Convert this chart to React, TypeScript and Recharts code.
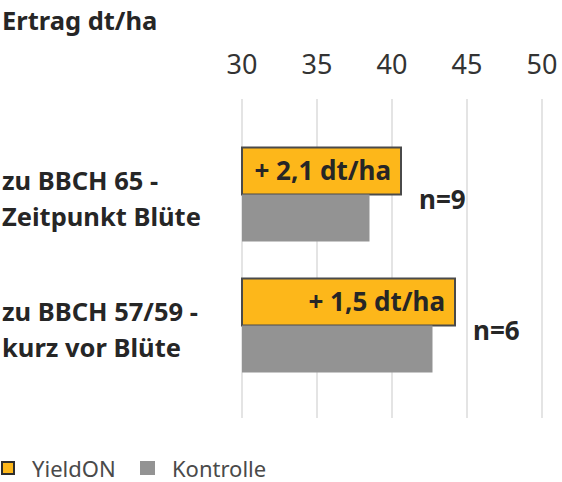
import React from "react";
import { BarChart, Bar, XAxis, YAxis, CartesianGrid, Legend, LabelList } from "recharts";

const categories = ["zu BBCH 65 -\nZeitpunkt Blüte", "zu BBCH 57/59 -\nkurz vor Blüte"];
const yieldOnValues = [40.6, 44.2];
const kontrolleValues = [38.5, 42.7];
const diffLabels = ["+ 2,1 dt/ha", "+ 1,5 dt/ha"];
const nLabels = ["n=9", "n=6"];
const xTicks = [30, 35, 40, 45, 50];

const data = categories.map((name, i) => ({
  name,
  yieldOn: yieldOnValues[i],
  kontrolle: kontrolleValues[i],
  diff: diffLabels[i],
  n: nLabels[i],
}));

const FONT = "'Noto Sans', 'Open Sans', sans-serif";
const YELLOW = "#FDB71A";
const GRAY = "#939393";
const DARK = "#262626";

const CategoryTick = (props: any) => {
  const { y, payload } = props;
  const lines = String(payload.value).split("\n");
  return (
    <text x={2} y={y - 4} fontFamily={FONT} fontSize={25.5} fontWeight="bold" fill={DARK}>
      {lines.map((l, i) => (
        <tspan key={i} x={2} dy={i === 0 ? 0 : 36}>
          {l}
        </tspan>
      ))}
    </text>
  );
};

const NLabel = (props: any) => {
  const { x, y, width, height, value } = props;
  return (
    <text
      x={x + width + 18}
      y={y + height + 4}
      dominantBaseline="central"
      fontFamily={FONT}
      fontSize={26}
      fontWeight="bold"
      fill={DARK}
    >
      {value}
    </text>
  );
};

const LegendContent = () => (
  <div style={{ position: "relative", height: 28, width: 562, fontFamily: FONT, fontSize: 22, color: "#4a4a4a" }}>
    <div style={{ position: "absolute", left: 1, top: 7, width: 14, height: 14, boxSizing: "border-box", background: YELLOW, border: "2px solid #2e2e2e" }} />
    <div style={{ position: "absolute", left: 32, top: 0, height: 28, lineHeight: "28px" }}>YieldON</div>
    <div style={{ position: "absolute", left: 140, top: 7, width: 15, height: 14, background: GRAY }} />
    <div style={{ position: "absolute", left: 172, top: 0, height: 28, lineHeight: "28px" }}>Kontrolle</div>
  </div>
);

export default function App() {
  return (
    <div style={{ position: "absolute", left: 0, top: 0, width: 562, height: 482, fontFamily: FONT, background: "#fff" }}>
      <BarChart
        width={562}
        height={482}
        data={data}
        layout="vertical"
        margin={{ top: 98.5, right: 20, bottom: 91.5, left: 2 }}
        barSize={47}
        barGap={0}
      >
        <text x={2} y={30} fontFamily={FONT} fontSize={25.5} fontWeight="bold" fill={DARK}>
          Ertrag dt/ha
        </text>
        <CartesianGrid horizontal={false} stroke="#e4e4e4" strokeWidth={2} y={99} height={319} />
        <XAxis
          type="number"
          orientation="top"
          domain={[30, 50]}
          ticks={xTicks}
          axisLine={false}
          tickLine={false}
          tickSize={0}
          tickMargin={54.5}
          height={30}
          interval={0}
          tick={{ fontSize: 27, fill: "#333", fontFamily: FONT }}
        />
        <YAxis
          type="category"
          dataKey="name"
          width={240}
          axisLine={false}
          tickLine={false}
          tick={<CategoryTick />}
          interval={0}
        />
        <Legend
          layout="horizontal"
          verticalAlign="middle"
          align="center"
          wrapperStyle={{ top: 454, left: 0, width: 562 }}
          content={<LegendContent />}
        />
        <Bar dataKey="yieldOn" name="YieldON" fill={YELLOW} stroke="#4a4a4a" strokeWidth={2} isAnimationActive={false}>
          <LabelList
            dataKey="diff"
            position="insideRight"
            offset={10}
            fontFamily={FONT}
            fontSize={26}
            fontWeight="bold"
            fill={DARK}
          />
          <LabelList dataKey="n" content={<NLabel />} />
        </Bar>
        <Bar dataKey="kontrolle" name="Kontrolle" fill={GRAY} isAnimationActive={false} />
      </BarChart>
    </div>
  );
}
